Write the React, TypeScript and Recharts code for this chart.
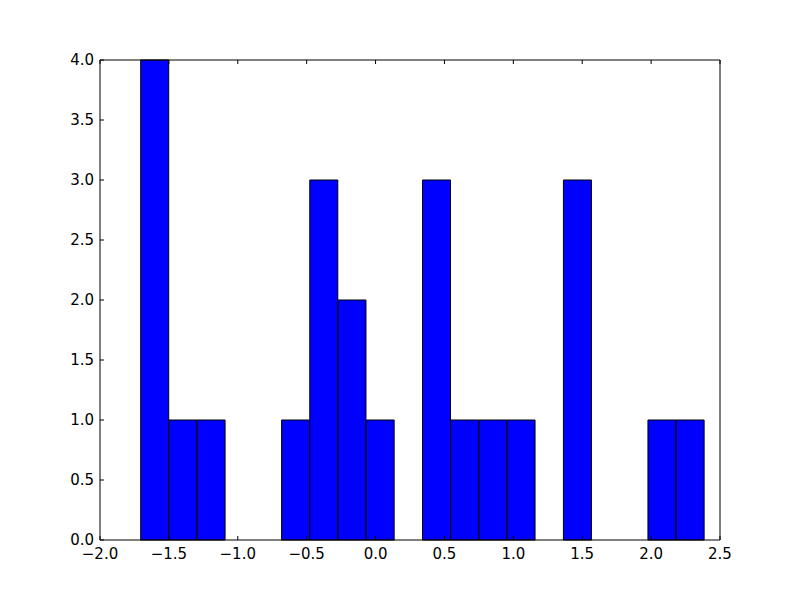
import { BarChart, Bar, XAxis, YAxis } from "recharts";

// histogram bins: centers and counts
const binCenters = [
  -1.6023, -1.3978, -1.1932, -0.9887, -0.7842, -0.5796, -0.3751, -0.1706, 0.034, 0.2385,
  0.443, 0.6476, 0.8521, 1.0566, 1.2612, 1.4657, 1.6702, 1.8748, 2.0793, 2.2838,
];
const counts = [4, 1, 1, 0, 0, 1, 3, 2, 1, 0, 3, 1, 1, 1, 0, 3, 0, 0, 1, 1];

const xTicks = [-2, -1.5, -1, -0.5, 0, 0.5, 1, 1.5, 2, 2.5];
const yTicks = [0, 0.5, 1, 1.5, 2, 2.5, 3, 3.5, 4];

const data = binCenters.map((x, i) => ({ x, count: counts[i] }));

const font = { fontFamily: "DejaVu Sans", fontSize: 15, fill: "#000" };
const axisLine = { stroke: "#000", strokeWidth: 1 };
const blank = () => "";

export default function App() {
  return (
    <div style={{ position: "absolute", left: 0, top: 0, background: "#fff" }}>
      <BarChart
        width={800}
        height={600}
        data={data}
        margin={{ top: 50, right: 70, bottom: 30, left: 40 }}
        barCategoryGap={0}
        barGap={0}
        style={{ fontFamily: "DejaVu Sans" }}
      >
        <XAxis
          xAxisId="bottom"
          dataKey="x"
          type="number"
          domain={[-2, 2.5]}
          ticks={xTicks}
          tickFormatter={(v: number) => v.toFixed(1).replace("-", "\u2212")}
          height={30}
          tickSize={-4}
          tickMargin={12}
          tick={font}
          fontSize={15}
          axisLine={axisLine}
          tickLine={axisLine}
          allowDataOverflow
        />
        <XAxis
          xAxisId="top"
          orientation="top"
          dataKey="x"
          type="number"
          domain={[-2, 2.5]}
          ticks={xTicks}
          tickFormatter={blank}
          height={10}
          tickSize={-4}
          axisLine={axisLine}
          tickLine={axisLine}
          allowDataOverflow
        />
        <YAxis
          yAxisId="left"
          type="number"
          domain={[0, 4]}
          ticks={yTicks}
          tickFormatter={(v: number) => v.toFixed(1)}
          width={60}
          tickSize={-4}
          tickMargin={10}
          tick={font}
          fontSize={15}
          axisLine={axisLine}
          tickLine={axisLine}
        />
        <YAxis
          yAxisId="right"
          orientation="right"
          type="number"
          domain={[0, 4]}
          ticks={yTicks}
          tickFormatter={blank}
          width={10}
          tickSize={-4}
          axisLine={axisLine}
          tickLine={axisLine}
        />
        <Bar
          xAxisId="bottom"
          yAxisId="left"
          dataKey="count"
          fill="#0000ff"
          stroke="#000"
          strokeWidth={1}
          isAnimationActive={false}
        />
      </BarChart>
    </div>
  );
}
